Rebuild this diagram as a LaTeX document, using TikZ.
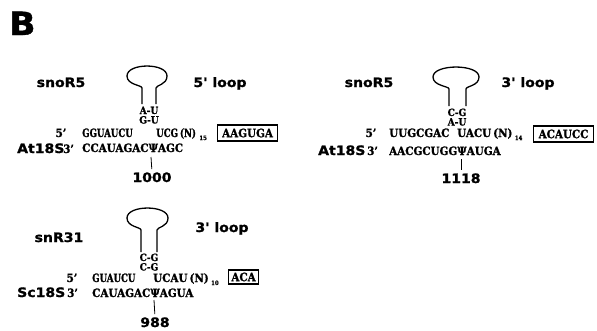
\documentclass[tikz,border=0pt]{standalone}
\usepackage{fontspec}
\setmainfont{Liberation Serif}
\newfontfamily\labfont[FakeStretch=1.08,FakeBold=1.2]{DejaVu Sans}
\newfontfamily\seqfont[Ligatures=TeX,FakeStretch=0.9,FakeBold=1.2]{DejaVu Serif}
\newfontfamily\seqcfont[Ligatures=TeX,FakeStretch=0.75,FakeBold=1.2]{DejaVu Serif}
\tikzset{
  lab/.style={font=\labfont\bfseries\fontsize{13}{14}\selectfont, inner sep=0pt},
  seq/.style={font=\seqfont\bfseries\fontsize{11.5}{12}\selectfont, inner sep=0pt},
  seqc/.style={font=\seqcfont\bfseries\fontsize{11.5}{12}\selectfont, inner sep=0pt},
  pair/.style={font=\seqfont\bfseries\fontsize{10}{10}\selectfont, inner sep=0pt},
  subs/.style={font=\seqfont\bfseries\fontsize{6}{6}\selectfont, inner sep=0pt},
  seqbox/.style={draw, line width=1.1pt, font=\seqfont\bfseries\fontsize{11.5}{12}\selectfont,
    inner xsep=3.5pt, inner ysep=0pt, minimum height=16pt, minimum width=60pt},
  hp/.style={line width=1.3pt},
  tickline/.style={line width=0.8pt, shorten >=3pt}
}
\begin{document}
\begin{tikzpicture}[x=1pt,y=-1pt]
\useasboundingbox (0,0) rectangle (597,330);

% panel letter
\node[font=\labfont\bfseries\fontsize{32}{32}\selectfont, inner sep=0pt, anchor=base west] (B) at (9,35) {B};

% ---------- panel 1: snoR5, 5' loop ----------
\node[lab, anchor=base] (s1) at (61,87) {snoR5};
\node[lab, anchor=base] (l1) at (220,87) {5' loop};
\draw[hp] (142,104) -- (142,88) .. controls (142,85) and (127,85) .. (127,76)
  .. controls (127,62.7) and (167,62.7) .. (167,76)
  .. controls (167,85) and (156,85) .. (156,88) -- (156,104);
\node[pair, anchor=base] (p1a) at (149,114) {A-U};
\node[pair, anchor=base] (p1b) at (149,123.5) {G-U};
\node[seq, anchor=base] (f1) at (61,137) {5'};
\node[seqc, anchor=base west] (u1) at (82,137) {GGUAUCU};
\node[seqc, anchor=base west] (v1) at (156,137) {UCG\hspace{2pt}(N)};
\node[subs, anchor=base west] (n1) at ([xshift=3pt,yshift=-3pt]v1.base east) {15};
\node[seqbox, anchor=west] (b1) at (217,133) {AAGUGA};
\node[lab, anchor=base west] (a1) at (17,153) {At18S};
\node[seq, anchor=base west] (t1) at (63,153) {3'};
\node[seq, anchor=base west] (w1) at (82,152) {CCAUAGACΨAGC};
\coordinate (k1) at (151,157);
\node[lab, anchor=base] (m1) at (152,182) {1000};
\draw[tickline] (k1) -- (m1.north);

% ---------- panel 2: snoR5, 3' loop ----------
\node[lab, anchor=base] (s2) at (369,87) {snoR5};
\node[lab, anchor=base] (l2) at (528,87) {3' loop};
\draw[hp] (449,106) -- (449,89) .. controls (449,86) and (433,86) .. (433,77)
  .. controls (433,63.7) and (479,63.7) .. (479,77)
  .. controls (479,86) and (466,86) .. (466,89) -- (466,106);
\node[pair, anchor=base] (p2a) at (457,116) {C-G};
\node[pair, anchor=base] (p2b) at (457,125.5) {A-U};
\node[seq, anchor=base] (f2) at (371,137) {5'};
\node[seq, anchor=base west] (u2) at (389,137) {UUGCGAC};
\node[seq, anchor=base west] (v2) at (457,137) {UACU\hspace{2pt}(N)};
\node[subs, anchor=base west] (n2) at ([xshift=2pt,yshift=-3pt]v2.base east) {14};
\node[seqbox, anchor=west] (b2) at (533,134) {ACAUCC};
\node[lab, anchor=base west] (a2) at (318,155) {At18S};
\node[seq, anchor=base west] (t2) at (367,155) {3'};
\node[seq, anchor=base west] (w2) at (389,155) {AACGCUGGΨAUGA};
\coordinate (k2) at (461,159);
\node[lab, anchor=base] (m2) at (461,183) {1118};
\draw[tickline] (k2) -- (m2.north);

% ---------- panel 3: snR31, 3' loop ----------
\node[lab, anchor=base] (s3) at (59,242) {snR31};
\node[lab, anchor=base] (l3) at (222,232) {3' loop};
\draw[hp] (141,252) -- (141,230) .. controls (141,227) and (127,227) .. (127,218)
  .. controls (127,204.7) and (168,204.7) .. (168,218)
  .. controls (168,227) and (157,227) .. (157,230) -- (157,252);
\node[pair, anchor=base] (p3a) at (149,261) {C-G};
\node[pair, anchor=base] (p3b) at (149,270.5) {C-G};
\node[seq, anchor=base] (f3) at (72,282) {5'};
\node[seqc, anchor=base west] (u3) at (92,282) {GUAUCU};
\node[seq, anchor=base west] (v3) at (153,282) {UCAU\hspace{2pt}(N)};
\node[subs, anchor=base west] (n3) at ([xshift=2pt,yshift=-3pt]v3.base east) {10};
\node[seqbox, anchor=west, inner xsep=2pt, minimum height=14pt, minimum width=30pt] (b3) at (228,277) {ACA};
\node[lab, anchor=base west] (a3) at (17,297) {Sc18S};
\node[seq, anchor=base west] (t3) at (67,297) {3'};
\node[seq, anchor=base west] (w3) at (92,297) {CAUAGACΨAGUA};
\coordinate (k3) at (154,300);
\node[lab, anchor=base] (m3) at (155,327) {988};
\draw[tickline] (k3) -- (m3.north);
\end{tikzpicture}
\end{document}
